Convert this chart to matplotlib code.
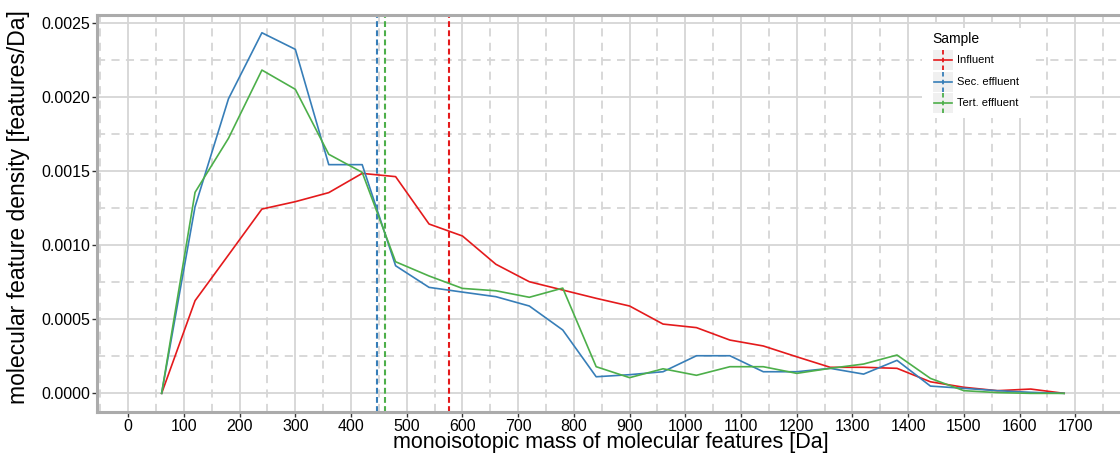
import numpy as np
import matplotlib
matplotlib.use("Agg")
import matplotlib.pyplot as plt
from matplotlib.patches import Rectangle
from matplotlib.lines import Line2D

plt.rcParams['font.family'] = ['Liberation Sans', 'DejaVu Sans']

mass = [60, 120, 180, 240, 300, 360, 420, 480, 540, 600, 660, 720, 780, 840,
        900, 960, 1020, 1080, 1140, 1200, 1260, 1320, 1380, 1440, 1500, 1560, 1620, 1680]

influent = [0.0, 0.000626, 0.000935, 0.001245, 0.001295, 0.001356, 0.001486, 0.001464,
            0.001144, 0.001063, 0.000872, 0.000754, 0.000698, 0.000642, 0.000590,
            0.000468, 0.000444, 0.000360, 0.000320, 0.000247, 0.000176, 0.000176,
            0.000169, 0.000078, 0.000041, 0.000018, 0.000029, 0.0]
sec_effluent = [0.0, 0.001261, 0.001990, 0.002436, 0.002324, 0.001545, 0.001545, 0.000862,
                0.000716, 0.000684, 0.000653, 0.000590, 0.000428, 0.000112, 0.000126,
                0.000146, 0.000254, 0.000254, 0.000146, 0.000146, 0.000169, 0.000130,
                0.000223, 0.000049, 0.000034, 0.000018, 0.000007, 0.0]
tert_effluent = [0.0, 0.001358, 0.001723, 0.002184, 0.002054, 0.001615, 0.001493, 0.000889,
                 0.000793, 0.000709, 0.000693, 0.000649, 0.000711, 0.000180, 0.000106,
                 0.000166, 0.000122, 0.000180, 0.000180, 0.000135, 0.000169, 0.000198,
                 0.000259, 0.000101, 0.000018, 0.000005, 0.0, 0.0]

sample_names = ["Influent", "Sec. effluent", "Tert. effluent"]
mean_mass = [576, 446, 461]
colors = ["#E41A1C", "#377EB8", "#4DAF4A"]
series = [influent, sec_effluent, tert_effluent]

x_ticks = list(range(0, 1800, 100))
y_ticks = [0.0, 0.0005, 0.0010, 0.0015, 0.0020, 0.0025]

W, H = 1120, 455
fig = plt.figure(figsize=(W / 100, H / 100), dpi=100)

left_px, right_px, top_px, bot_px = 97, 1131, 15, 412
ax = fig.add_axes([left_px / W, 1 - bot_px / H, (right_px - left_px) / W, (bot_px - top_px) / H])
ax.set_xlim(-56, 1800)
ax.set_ylim(-0.000126, 0.002556)

# grid
grid_col = "#D6D6D6"
for xv in x_ticks + [1800]:
    ax.axvline(xv, color=grid_col, lw=1.3, zorder=0)
for xv in np.arange(-50, 1800, 100):
    ax.axvline(xv, color=grid_col, lw=1.3, ls=(0, (4.5, 3.5)), zorder=0)
for yv in y_ticks:
    ax.axhline(yv, color=grid_col, lw=1.3, zorder=0)
for yv in np.arange(0.00025, 0.0026, 0.0005):
    ax.axhline(yv, color=grid_col, lw=1.3, ls=(0, (4.5, 3.5)), zorder=0)

for name, vals, c, m in zip(sample_names, series, colors, mean_mass):
    ax.plot(mass, vals, color=c, lw=1.2, zorder=3)
    ax.axvline(m, color=c, lw=1.5, ls=(0, (2.8, 1.6)), zorder=2)

ax.set_xticks(x_ticks)
ax.set_yticks(y_ticks)
ax.set_yticklabels([f"{v:.4f}" for v in y_ticks])
ax.tick_params(axis='both', which='major', direction='out', length=3.5, width=1.0,
               color="#333333", labelsize=11.5, labelcolor="black", pad=1.5)

for s in ['left', 'bottom', 'top']:
    ax.spines[s].set_color("#ABABAB")
    ax.spines[s].set_linewidth(2.2)
ax.spines['right'].set_visible(False)

fig.text(611 / W, 1 - 448 / H, "monoisotopic mass of molecular features [Da]",
         ha='center', va='baseline', fontsize=15.5)
fig.text(19 / W, 1 - 207 / H, "molecular feature density [features/Da]",
         ha='center', va='center', rotation=90, fontsize=16.5)

# legend (drawn in a small overlay axes)
lx0, lx1, ly0, ly1 = 922, 1030, 28, 118
lax = fig.add_axes([lx0 / W, 1 - ly1 / H, (lx1 - lx0) / W, (ly1 - ly0) / H])
lax.set_xlim(lx0, lx1)
lax.set_ylim(ly1, ly0)
lax.axis('off')
lax.add_patch(Rectangle((lx0, ly0), lx1 - lx0, ly1 - ly0, facecolor='white', edgecolor='none'))
lax.text(932, 39, "Sample", fontsize=10, va='center', ha='left')
key_y = [60, 82, 103]
for name, c, ky in zip(sample_names, colors, key_y):
    lax.add_patch(Rectangle((933, ky - 10), 20, 20, facecolor="#F0F0F0", edgecolor='none'))
    lax.add_line(Line2D([934, 952], [ky, ky], color=c, lw=1.2))
    lax.add_line(Line2D([943, 943], [ky - 10, ky + 10], color=c, lw=1.3, ls=(0, (2.5, 1.8))))
    lax.text(957, ky, name, fontsize=8, va='center', ha='left')

fig.savefig("out.png", dpi=100)
